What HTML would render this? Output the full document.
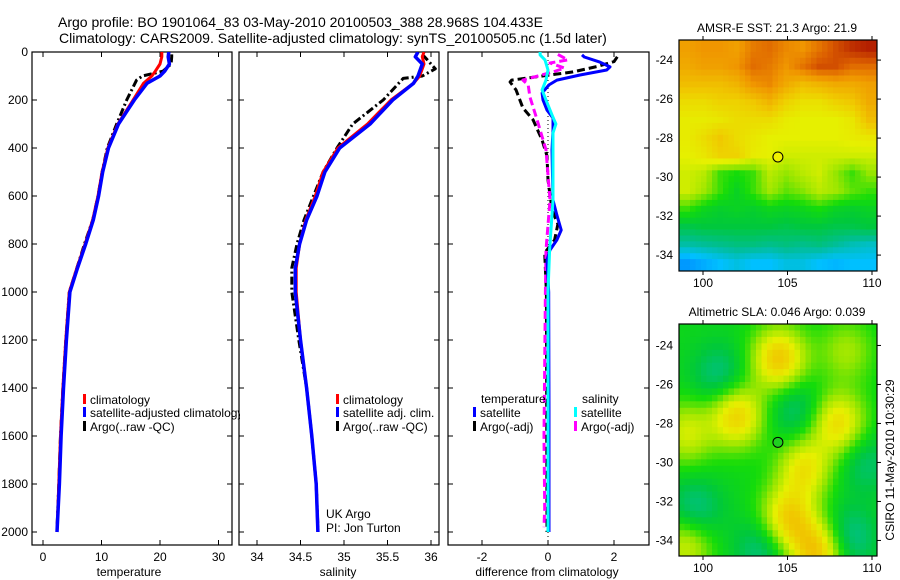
<!DOCTYPE html>
<html><head><meta charset="utf-8"><style>
html,body{margin:0;padding:0;background:#fff;}
svg{display:block;font-family:"Liberation Sans",sans-serif;}
</style></head><body>
<svg id="fig" width="900" height="580" viewBox="0 0 900 580" xmlns="http://www.w3.org/2000/svg">
<defs>
<clipPath id="c1"><rect x="32" y="52" width="200" height="493"/></clipPath>
<clipPath id="c2"><rect x="239" y="52" width="200" height="493"/></clipPath>
<clipPath id="c3"><rect x="448" y="52" width="201" height="493"/></clipPath>
<clipPath id="cl1"><rect x="32" y="380" width="208" height="60"/></clipPath>
</defs>
<text x="58" y="27" font-size="14">Argo profile: BO 1901064_83 03-May-2010 20100503_388 28.968S 104.433E</text>
<text x="59" y="43" font-size="14">Climatology: CARS2009. Satellite-adjusted climatology: synTS_20100505.nc (1.5d later)</text>
<text x="777" y="32" font-size="12" text-anchor="middle">AMSR-E SST: 21.3 Argo: 21.9</text>
<text x="777" y="316" font-size="12" text-anchor="middle">Altimetric SLA: 0.046 Argo: 0.039</text>
<text x="0" y="0" font-size="12" text-anchor="middle" transform="translate(894,460) rotate(-90)">CSIRO 11-May-2010 10:30:29</text>
<text x="129" y="576" font-size="12" text-anchor="middle">temperature</text>
<text x="338" y="576" font-size="12" text-anchor="middle">salinity</text>
<text x="547" y="576" font-size="12" text-anchor="middle">difference from climatology</text>
<g id="g"></g>
</svg>
<script>
// ---- profile data ----
const tDepth = [0,20,50,80,100,130,200,300,400,500,600,700,800,900,1000,1200,1400,1600,1800,2000];
const tClim = [20.3,20.3,20,19.2,18.6,17.2,15.4,12.8,11.1,10.1,9.4,8.5,7.2,5.8,4.5,3.9,3.4,3.0,2.7,2.4];
const tSat = [21.5,21.4,21.6,20.8,20.0,17.8,15.6,12.9,11.2,10.2,9.5,8.6,7.3,5.9,4.6,4.0,3.5,3.1,2.8,2.4];
const tArgoDepth = [10,20,50,80,100,117,200,300,400,500,600,700,800,900,1000,1200,1400,1600,1800,1990];
const tArgo = [22,22,21.9,20.5,17,16,14.3,12.6,11.0,10.1,9.4,8.5,7.1,5.8,4.5,3.9,3.4,3.0,2.7,2.4];
const sDepth = [0,20,50,100,130,200,300,400,500,600,700,800,900,1000,1200,1400,1600,1800,2000];
const sClim = [35.92,35.9,35.92,35.87,35.8,35.54,35.27,34.93,34.76,34.67,34.56,34.49,34.45,34.45,34.5,34.57,34.63,34.68,34.7];
const sSat = [35.85,35.82,35.9,35.85,35.8,35.56,35.3,34.95,34.78,34.69,34.57,34.49,34.44,34.44,34.5,34.57,34.63,34.68,34.7];
const sArgoDepth = [10,30,50,70,100,110,200,300,400,500,600,700,800,900,1000,1200,1400,1600,1800,1980];
const sArgo = [35.9,35.95,36.0,36.05,35.9,35.68,35.45,35.1,34.92,34.76,34.65,34.54,34.46,34.4,34.4,34.48,34.57,34.63,34.68,34.7];
const dTSatDepth = [12,21,42,62,75,96,117,137,171,200,242,275,325,408,617,680,742,783,825,867,1000,1500,2000];
const dTSat = [1.03,1.1,1.57,1.88,1.78,0.97,0.27,0.03,-0.18,-0.15,-0.03,0.15,0.15,0.12,0.15,0.27,0.4,0.27,0.06,-0.03,0.02,0.03,0.03];
const dTArgoDepth = [20,40,60,83,117,125,158,233,283,367,433,533,658,717,783,837,1000,1500,2000];
const dTArgo = [2.1,2.0,1.5,0.76,-1.1,-1.15,-0.97,-0.76,-0.45,-0.18,-0.03,0,0.12,0.3,0.2,-0.1,-0.05,-0.04,-0.03];
const dSSatDepth = [0,12,33,75,117,158,200,262,300,337,617,825,1000,1500,2000];
const dSSat = [-0.24,-0.24,-0.09,0,-0.06,-0.18,-0.06,0.12,0.24,0.15,0.15,0.05,0.0,0.0,0.0];
const dSArgoDepth = [10,33,46,67,83,117,137,187,283,408,617,825,1000,1300,1600,1900,1980];
const dSArgo = [0.3,0.6,0.06,0.5,0.15,-0.76,-0.6,-0.55,-0.33,-0.06,0.06,-0.06,-0.08,-0.1,-0.12,-0.1,-0.12];
const depthTicks = [0,200,400,600,800,1000,1200,1400,1600,1800,2000];
const tTicks = [0,10,20,30];
const sTicks = [34,34.5,35,35.5,36];
const sTickLabels = ["34","34.5","35","35.5","36"];
const dTicks = [-2,0,2];
const dTickLabels = ["-2","0","2"];
// ---- map data ----
const sstGrid = [
 [0.78,0.8,0.8,0.78,0.84,0.86,0.82,0.8,0.85,0.9,0.94,0.96],
 [0.76,0.78,0.78,0.8,0.86,0.84,0.8,0.85,0.9,0.9,0.86,0.86],
 [0.72,0.72,0.72,0.74,0.8,0.82,0.76,0.72,0.74,0.76,0.76,0.78],
 [0.66,0.66,0.68,0.68,0.7,0.74,0.68,0.65,0.65,0.68,0.7,0.76],
 [0.63,0.63,0.64,0.66,0.66,0.66,0.63,0.62,0.62,0.62,0.64,0.72],
 [0.63,0.66,0.7,0.66,0.64,0.62,0.62,0.62,0.62,0.62,0.63,0.64],
 [0.62,0.64,0.68,0.68,0.63,0.62,0.6,0.6,0.6,0.6,0.6,0.6],
 [0.6,0.58,0.5,0.48,0.5,0.58,0.55,0.58,0.6,0.55,0.5,0.55],
 [0.6,0.56,0.5,0.45,0.5,0.56,0.52,0.54,0.58,0.56,0.52,0.5],
 [0.5,0.46,0.44,0.45,0.44,0.46,0.45,0.46,0.48,0.45,0.44,0.45],
 [0.41,0.42,0.42,0.42,0.42,0.42,0.41,0.42,0.42,0.41,0.41,0.42],
 [0.34,0.35,0.36,0.37,0.37,0.36,0.37,0.36,0.37,0.35,0.33,0.32],
 [0.24,0.26,0.28,0.3,0.28,0.28,0.3,0.3,0.28,0.27,0.28,0.28]
];
const slaBlobLon = [104.5,102,108,106,105,106.8,99,99,101,105.5,99.5,103.5,108.6,109.6,108.5];
const slaBlobLat = [-24.7,-27.6,-28,-30.3,-32.9,-34.6,-28.5,-34.2,-25.6,-27.3,-32.5,-34.4,-33.9,-30,-24.3];
const slaBlobAmp = [0.24,0.22,0.2,0.18,0.22,0.25,0.14,0.15,-0.1,-0.09,-0.11,-0.1,-0.12,-0.08,0.1];
const argoLon = 104.433, argoLat = -28.968;

const NS = "http://www.w3.org/2000/svg";
const G = document.getElementById('g');
function mk(tag, attrs, parent){ const e=document.createElementNS(NS,tag); for(const k in attrs) e.setAttribute(k,attrs[k]); (parent||G).appendChild(e); return e; }

const yD = d => 52 + d*480/2000;
const xT = v => 43 + v*5.85;
const xS = v => 257 + (v-34)*87;
const xDf = v => 548 + v*33;

function panel(x0,x1,name,xs,ticks,labels){
  const grp = mk('g',{});
  
  
  const r = mk('rect',{x:x0,y:52,width:x1-x0,height:493,fill:'#fff',stroke:'#000','stroke-width':1.2},grp);
  
  
  depthTicks.forEach(d=>{
    const y=yD(d);
    mk('line',{x1:x0,x2:x0+5,y1:y,y2:y,stroke:'#000'},grp);
    mk('line',{x1:x1-5,x2:x1,y1:y,y2:y,stroke:'#000'},grp);
  });
  ticks.forEach((t,i)=>{
    const x=xs(t);
    mk('line',{x1:x,x2:x,y1:545,y2:540,stroke:'#000'},grp);
    mk('line',{x1:x,x2:x,y1:52,y2:57,stroke:'#000'},grp);
    const tx = mk('text',{x:x,y:561,'font-size':12,'text-anchor':'middle'},grp);
    tx.textContent = labels[i];
    
    
  });
  return grp;
}
function line(xs, ds, vs, color, w, dash, clip, name){
  const pts = ds.map((d,i)=> xs(vs[i]).toFixed(1)+','+yD(d).toFixed(1)).join(' ');
  const p = mk('polyline',{points:pts,fill:'none',stroke:color,'stroke-width':w,'clip-path':'url(#'+clip+')','stroke-linejoin':'round'});
  if(dash) p.setAttribute('stroke-dasharray',dash);
  
  
}

panel(32,232,'temperature-panel',xT,tTicks,tTicks.map(String));
panel(239,439,'salinity-panel',xS,sTicks,sTickLabels);
panel(448,649,'difference-panel',xDf,dTicks,dTickLabels);
depthTicks.forEach(d=>{
  const t=mk('text',{x:28,y:yD(d)+4,'font-size':12,'text-anchor':'end'});
  t.textContent=String(d);
  
  
});
const zl = mk('line',{x1:xDf(0),x2:xDf(0),y1:52,y2:545,stroke:'#000','stroke-dasharray':'1,3'});



line(xT,tArgoDepth,tArgo,'#000',3,'8,3,2,3','c1','temperature-argo-line');
line(xT,tDepth,tClim,'#f00',3,null,'c1','temperature-climatology-line');
line(xT,tDepth,tSat,'#00f',3.5,null,'c1','temperature-satellite-line');
line(xS,sArgoDepth,sArgo,'#000',3,'8,3,2,3','c2','salinity-argo-line');
line(xS,sDepth,sClim,'#f00',3,null,'c2','salinity-climatology-line');
line(xS,sDepth,sSat,'#00f',3.5,null,'c2','salinity-satellite-line');
line(xDf,dTArgoDepth,dTArgo,'#000',3,'8,4','c3','diff-temperature-argo-line');
line(xDf,dSArgoDepth,dSArgo,'#f0f',3,'8,4','c3','diff-salinity-argo-line');
line(xDf,dTSatDepth,dTSat,'#00f',3,null,'c3','diff-temperature-satellite-line');
line(xDf,dSSatDepth,dSSat,'#0ff',3,null,'c3','diff-salinity-satellite-line');

function legend(x,y,color,label,name,clip){
  const b=mk('rect',{x:x,y:y-10,width:3,height:10,fill:color});
  
  
  const t=mk('text',{x:x+7,y:y,'font-size':12});
  if(clip) t.setAttribute('clip-path','url(#'+clip+')');
  t.textContent=label;
  
  
}
legend(83,404,'#f00','climatology','legend-temperature-climatology');
legend(83,417,'#00f','satellite-adjusted climatology','legend-temperature-satellite','cl1');
legend(83,431,'#000','Argo(..raw -QC)','legend-temperature-argo');
legend(336,404,'#f00','climatology','legend-salinity-climatology');
legend(336,417,'#00f','satellite adj. clim.','legend-salinity-satellite');
legend(336,431,'#000','Argo(..raw -QC)','legend-salinity-argo');
function txt(x,y,s,name,size){const t=mk('text',{x:x,y:y,'font-size':size||12});t.textContent=s;}
txt(326,518,'UK Argo','uk-argo-label');
txt(326,532,'PI: Jon Turton','pi-label');
txt(481,403,'temperature','legend-diff-temperature-heading');
txt(582,403,'salinity','legend-diff-salinity-heading');
legend(473,417,'#00f','satellite','legend-diff-temperature-satellite');
legend(473,431,'#000','Argo(-adj)','legend-diff-temperature-argo');
legend(574,417,'#0ff','satellite','legend-diff-salinity-satellite');
legend(574,431,'#f0f','Argo(-adj)','legend-diff-salinity-argo');

// ---- colormap ----
const cmStops=[[0,[0,0,160]],[0.15,[0,64,255]],[0.28,[0,192,255]],[0.35,[0,190,150]],[0.42,[0,200,60]],[0.48,[20,220,10]],[0.55,[150,230,0]],[0.62,[230,240,0]],[0.7,[240,200,0]],[0.8,[240,150,0]],[0.88,[220,95,0]],[1,[160,0,0]]];
function cmap(v){v=Math.max(0,Math.min(1,v));for(let i=1;i<cmStops.length;i++){if(v<=cmStops[i][0]){const a=cmStops[i-1],b=cmStops[i],f=(v-a[0])/(b[0]-a[0]);const c=a[1].map((x,k)=>Math.round(x+(b[1][k]-x)*f));return 'rgb('+c.join(',')+')';}}return 'rgb(160,0,0)';}

function mapFrame(y0,y1,latTop,name){
  const xL=v=>679+(v-98.58)*16.9, yL=v=>y0+(latTop-v)*19.5;
  return {xL,yL,y0,y1,name};
}
function mapAxes(m,circleFill){
  const grp=mk('g',{});
  
  
  mk('rect',{x:679,y:m.y0,width:198,height:m.y1-m.y0,fill:'none',stroke:'#000','stroke-width':1.2},grp);
  [100,105,110].forEach(l=>{const x=m.xL(l);
    mk('line',{x1:x,x2:x,y1:m.y1,y2:m.y1+4,stroke:'#000'},grp);
    mk('line',{x1:x,x2:x,y1:m.y0,y2:m.y0-4,stroke:'#000'},grp);
    const t=mk('text',{x:x,y:m.y1+16,'font-size':12,'text-anchor':'middle'},grp);t.textContent=String(l);
    });
  [-24,-26,-28,-30,-32,-34].forEach(l=>{const y=m.yL(l);
    mk('line',{x1:877,x2:881,y1:y,y2:y,stroke:'#000'},grp);
    const t=mk('text',{x:673,y:y+4,'font-size':12,'text-anchor':'end'},grp);t.textContent=String(l);
    });
  const c=mk('circle',{cx:m.xL(argoLon),cy:m.yL(argoLat),r:5,fill:circleFill,stroke:'#000'},grp);
  
  
}
// SST map
const m1=mapFrame(40,271,-22.97,'sst-map');
const sstG=mk('g',{});


const nR=sstGrid.length, nC=sstGrid[0].length;
const cw=198/nC, ch=231/nR;
const up=3;
for(let r=0;r<nR*up;r++)for(let c=0;c<nC*up;c++){
  const fr=Math.min(nR-1,Math.max(0,(r+0.5)/up-0.5)), fc=Math.min(nC-1,Math.max(0,(c+0.5)/up-0.5));
  const r0=Math.floor(fr),c0=Math.floor(fc),r1=Math.min(nR-1,r0+1),c1=Math.min(nC-1,c0+1),a=fr-r0,b=fc-c0;
  const v=sstGrid[r0][c0]*(1-a)*(1-b)+sstGrid[r0][c1]*(1-a)*b+sstGrid[r1][c0]*a*(1-b)+sstGrid[r1][c1]*a*b;
  const e=mk('rect',{x:(679+c*cw/up).toFixed(2),y:(40+r*ch/up).toFixed(2),width:(cw/up+0.4).toFixed(2),height:(ch/up+0.4).toFixed(2),fill:cmap(v)},sstG);
  
  
}
mapAxes(m1,'#f0f000');
// SLA map
const m2=mapFrame(324,556,-22.9,'sla-map');
const slaG=mk('g',{});


const N=36, sw=198/N, sh=232/N;
for(let r=0;r<N;r++)for(let c=0;c<N;c++){
  const lon=98.58+(c+0.5)*sw/16.9, lat=-22.9-(r+0.5)*sh/19.5;
  let v=0.46;
  for(let k=0;k<slaBlobLon.length;k++){const dx=lon-slaBlobLon[k],dy=lat-slaBlobLat[k];v+=slaBlobAmp[k]*Math.exp(-(dx*dx+dy*dy)/2.6);}
  const e=mk('rect',{x:(679+c*sw).toFixed(2),y:(324+r*sh).toFixed(2),width:(sw+0.4).toFixed(2),height:(sh+0.4).toFixed(2),fill:cmap(v)},slaG);
  
  
}
mapAxes(m2,'#20d020');
</script>
</body></html>
